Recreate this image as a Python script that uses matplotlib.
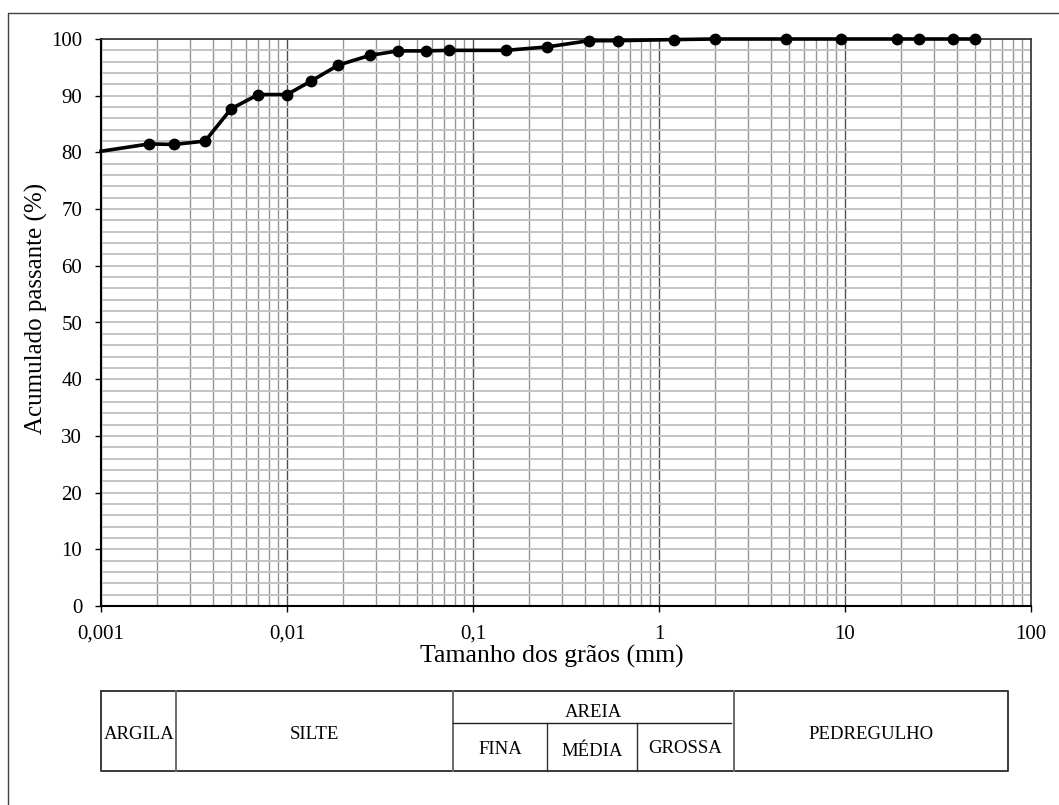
import matplotlib
matplotlib.use("Agg")
import matplotlib.pyplot as plt
from matplotlib.ticker import FixedLocator, FixedFormatter, MultipleLocator, LogLocator, NullFormatter

plt.rcParams['font.family'] = ['Liberation Serif', 'DejaVu Serif']

# Grain size distribution (sieving + sedimentation)
grain_mm = [0.001, 0.00182, 0.00247, 0.00363, 0.00501, 0.0070, 0.0100, 0.0135,
            0.0189, 0.0278, 0.0394, 0.0556, 0.0742, 0.15, 0.25, 0.42, 0.6, 1.2,
            2.0, 4.8, 9.5, 19, 25, 38, 50]
passing_pct = [80.2, 81.5, 81.4, 82.0, 87.7, 90.2, 90.2, 92.6,
               95.4, 97.1, 97.9, 97.9, 98.0, 98.0, 98.6, 99.7, 99.7, 99.9,
               100, 100, 100, 100, 100, 100, 100]

x_ticks = [0.001, 0.01, 0.1, 1, 10, 100]
x_tick_labels = ['0,001', '0,01', '0,1', '1', '10', '100']
y_ticks = list(range(0, 101, 10))

W, H = 1059, 805
fig = plt.figure(figsize=(W / 100, H / 100), dpi=100)

# Overlay in pixel coordinates for the frame and classification table
ov = fig.add_axes([0, 0, 1, 1], zorder=0)
ov.set_xlim(0, W)
ov.set_ylim(H, 0)
ov.axis('off')
ov.patch.set_alpha(0)

# outer frame (left and top edges)
ov.plot([8, 8, W + 5], [H + 5, 13, 13], color='#404040', lw=1.0, clip_on=False)

# classification table
tbl_l, tbl_r, tbl_t, tbl_b = 101, 1008, 691, 771
x_arg, x_sil, x_fin, x_med, x_gro = 176, 453, 547, 637, 734
y_mid = 723
edge = '#3a3a3a'
ov.plot([tbl_l, tbl_r, tbl_r, tbl_l, tbl_l], [tbl_t, tbl_t, tbl_b, tbl_b, tbl_t], color=edge, lw=1.4)
for xv in (x_arg, x_sil, x_gro):
    ov.plot([xv, xv], [tbl_t, tbl_b], color='#6a6a6a', lw=1.4)
for xv in (x_fin, x_med):
    ov.plot([xv, xv], [y_mid, tbl_b], color='#303030', lw=1.0)
ov.plot([x_sil, x_gro - 3], [y_mid, y_mid], color='#202020', lw=1.0)

tfs = 13.5
ov.text((tbl_l + x_arg) / 2 + 1, 734, 'ARGILA', ha='center', va='center', fontsize=tfs)
ov.text((x_arg + x_sil) / 2, 734, 'SILTE', ha='center', va='center', fontsize=tfs)
ov.text((x_sil + x_gro) / 2, 712, 'AREIA', ha='center', va='center', fontsize=tfs)
ov.text((x_sil + x_fin) / 2, 749, 'FINA', ha='center', va='center', fontsize=tfs)
ov.text((x_fin + x_med) / 2, 751, 'MÉDIA', ha='center', va='center', fontsize=tfs)
ov.text((x_med + x_gro) / 2, 748, 'GROSSA', ha='center', va='center', fontsize=tfs)
ov.text((x_gro + tbl_r) / 2, 734, 'PEDREGULHO', ha='center', va='center', fontsize=tfs)

# Main grain size chart
ax = fig.add_axes([101 / W, 1 - 606 / H, (1031 - 101) / W, (606 - 39) / H], zorder=1)
ax.set_xscale('log')
ax.set_xlim(0.001, 100)
ax.set_ylim(0, 100)

ax.xaxis.set_major_locator(FixedLocator(x_ticks))
ax.xaxis.set_major_formatter(FixedFormatter(x_tick_labels))
ax.xaxis.set_minor_locator(LogLocator(base=10, subs=range(2, 10), numticks=20))
ax.xaxis.set_minor_formatter(NullFormatter())
ax.set_yticks(y_ticks)
ax.yaxis.set_minor_locator(MultipleLocator(2))

ax.grid(which='both', axis='y', color='#c4c4c4', lw=1.4)
ax.grid(which='minor', axis='x', color='#959595', lw=1.0)
ax.grid(which='major', axis='x', color='#505050', lw=1.0)
ax.set_axisbelow(True)

ax.tick_params(which='major', direction='out', length=4.5, width=1.0, labelsize=15, color='black')
ax.tick_params(axis='y', which='major', pad=9)
ax.tick_params(axis='x', which='major', pad=9)
ax.tick_params(which='minor', length=0)

for side in ('left', 'bottom'):
    ax.spines[side].set_linewidth(1.5)
    ax.spines[side].set_color('black')
for side in ('top', 'right'):
    ax.spines[side].set_linewidth(1.2)
    ax.spines[side].set_color('#303030')

ax.plot(grain_mm, passing_pct, color='black', lw=2.6, marker='o', markersize=7.5,
        markevery=list(range(1, len(grain_mm))), clip_on=False, zorder=5)
ax.set_xlim(0.001, 100)

ax.set_xlabel('Tamanho dos grãos (mm)', fontsize=18.5)
ax.set_ylabel('Acumulado passante (%)', fontsize=18)
ax.xaxis.set_label_coords(0.485, -0.068)
ax.yaxis.set_label_coords(-0.057, 0.524)

fig.savefig('out.png', dpi=100)
